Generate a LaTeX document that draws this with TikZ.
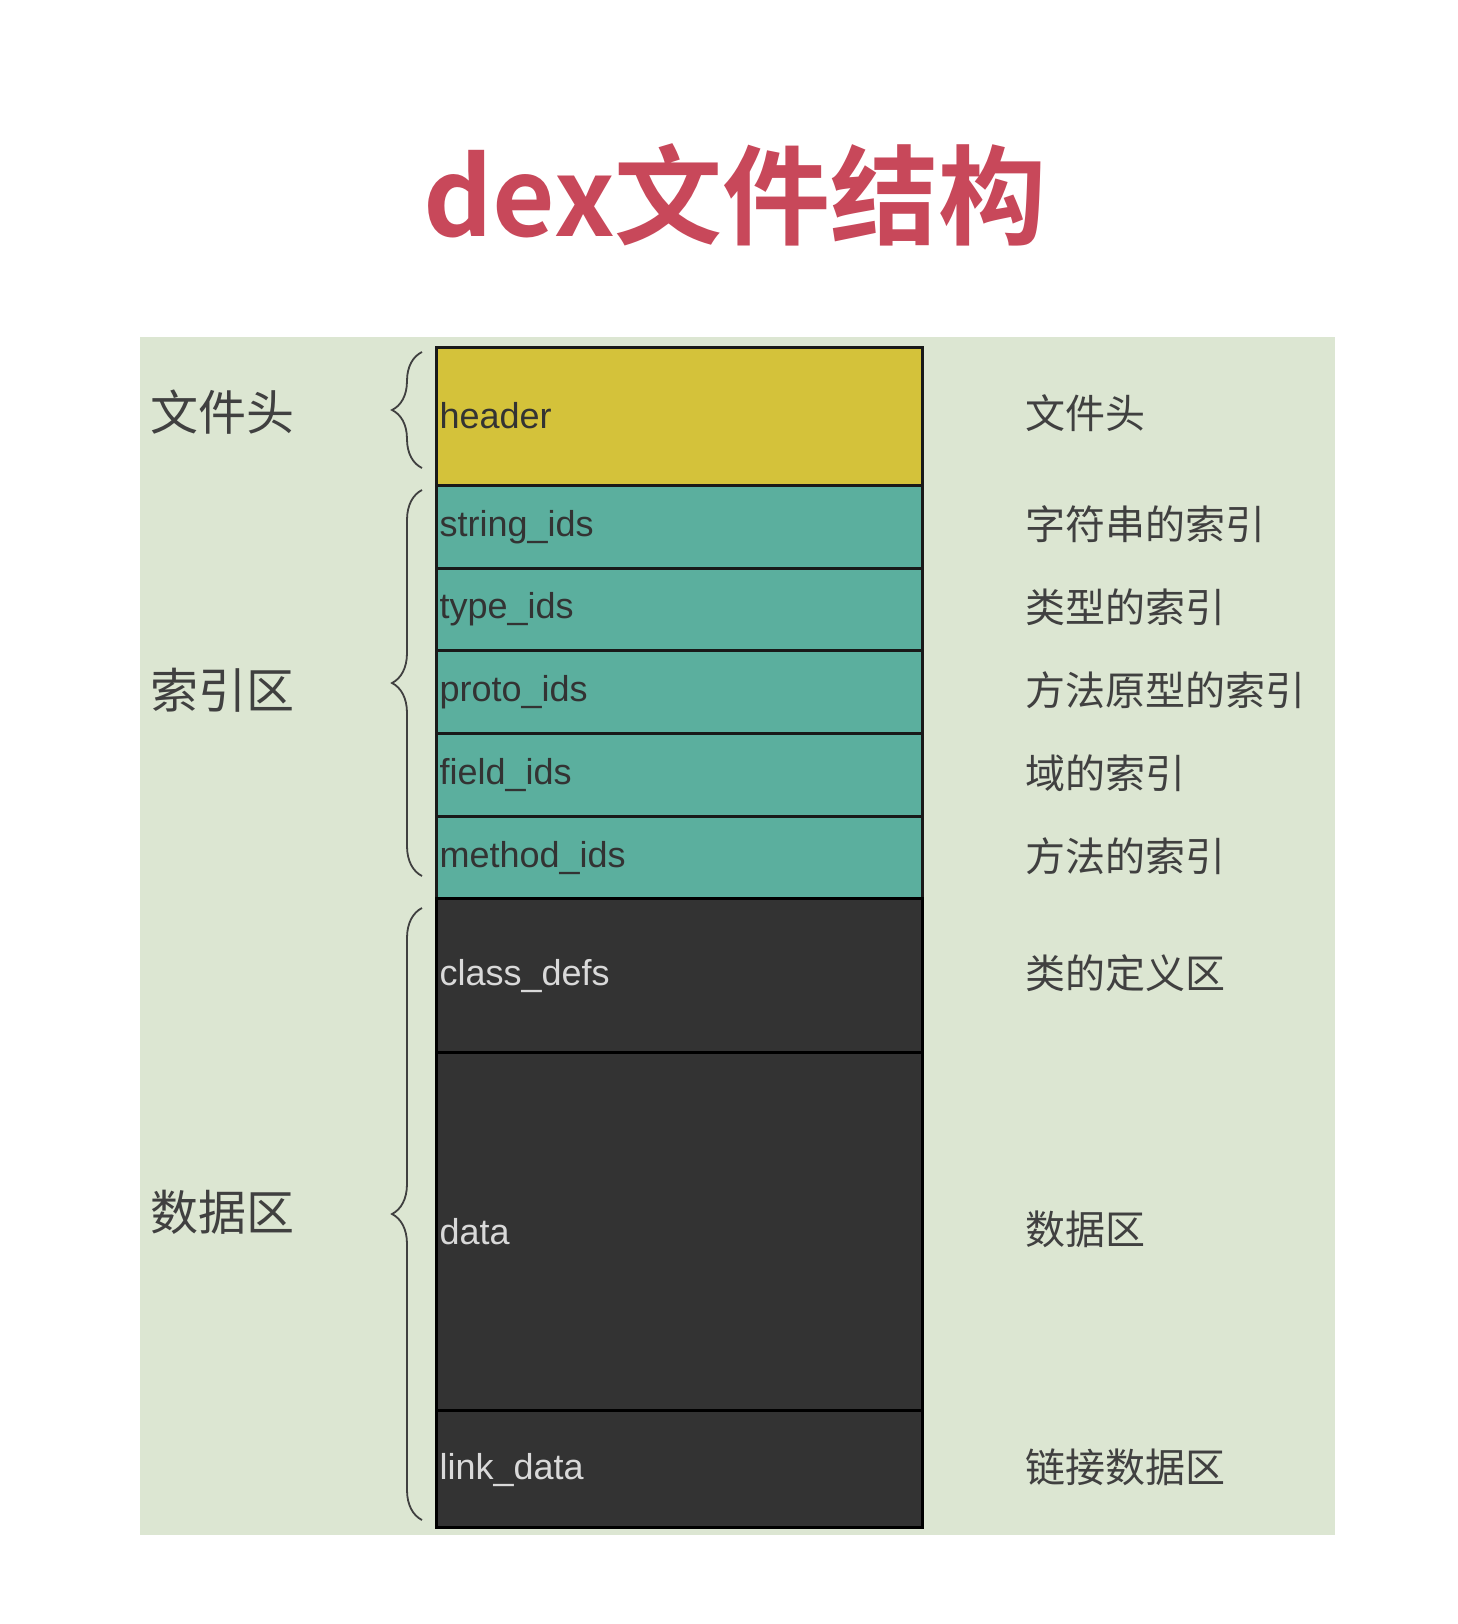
\documentclass[tikz,border=0pt]{standalone}
\usepackage{fontspec}
\setmainfont{Liberation Sans}
\newfontfamily\cjk{Noto Sans CJK SC}
\newfontfamily\cjkb{Noto Sans CJK SC Bold}
\usetikzlibrary{decorations.pathreplacing}
\definecolor{bgg}{HTML}{DCE6D2}
\definecolor{hdr}{HTML}{D4C23A}
\definecolor{tl}{HTML}{5BAF9E}
\definecolor{dk}{HTML}{333333}
\definecolor{ttl}{HTML}{C8485A}
\begin{document}
\begin{tikzpicture}[x=1pt,y=-1pt,
  seg/.style={draw=black!90,line width=3pt},
  blab/.style={anchor=west,font=\fontsize{36}{36}\selectfont},
  rlab/.style={anchor=west,font=\cjk\fontsize{40}{40}\selectfont,text=black!75},
  llab/.style={font=\cjk\fontsize{48}{48}\selectfont,text=black!75},
  br/.style={decorate,decoration={brace,amplitude=30pt},line width=1.8pt,draw=black!75}]
\useasboundingbox (0,0) rectangle (1458,1624);
\fill[white] (0,0) rectangle (1458,1624);
\node[font=\cjkb\fontsize{108}{108}\selectfont,text=ttl] (title) at (735,195) {dex文件结构};
\fill[bgg] (140,337) rectangle (1335,1535);
\filldraw[seg,fill=hdr] (436,347) rectangle (922,485);
\foreach \a/\b in {485/568,568/650,650/733,733/816,816/898}{\filldraw[seg,fill=tl] (436,\a) rectangle (922,\b);}
\foreach \a/\b in {898/1052,1052/1410,1410/1527}{\filldraw[seg,draw=black,fill=dk] (436,\a) rectangle (922,\b);}
\node[blab,text=black!80] (h) at (436,416) {header};
\node[blab,text=black!80] (s) at (436,527) {string\_ids};
\node[blab,text=black!80] (t) at (436,609) {type\_ids};
\node[blab,text=black!80] (p) at (436,692) {proto\_ids};
\node[blab,text=black!80] (f) at (436,775) {field\_ids};
\node[blab,text=black!80] (m) at (436,858) {method\_ids};
\node[blab,text=black!15] (c) at (436,976) {class\_defs};
\node[blab,text=black!15] (d) at (436,1232) {data};
\node[blab,text=black!15] (l) at (436,1470) {link\_data};
\node[rlab] (r1) at (1022,413) {文件头};
\node[rlab] (r2) at (1022,524) {字符串的索引};
\node[rlab] (r3) at (1022,607) {类型的索引};
\node[rlab] (r4) at (1022,690) {方法原型的索引};
\node[rlab] (r5) at (1022,773) {域的索引};
\node[rlab] (r6) at (1022,856) {方法的索引};
\node[rlab] (r7) at (1022,973) {类的定义区};
\node[rlab] (r8) at (1022,1229) {数据区};
\node[rlab] (r9) at (1022,1467) {链接数据区};
\node[llab] (l1) at (222,412) {文件头};
\node[llab] (l2) at (222,690) {索引区};
\node[llab] (l3) at (222,1212) {数据区};
\coordinate (b1a) at (422,468); \coordinate (b1b) at (422,352);
\coordinate (b2a) at (422,876); \coordinate (b2b) at (422,490);
\coordinate (b3a) at (422,1520); \coordinate (b3b) at (422,908);
\draw[br] (b1a) -- (b1b);
\draw[br] (b2a) -- (b2b);
\draw[br] (b3a) -- (b3b);
\end{tikzpicture}
\end{document}
